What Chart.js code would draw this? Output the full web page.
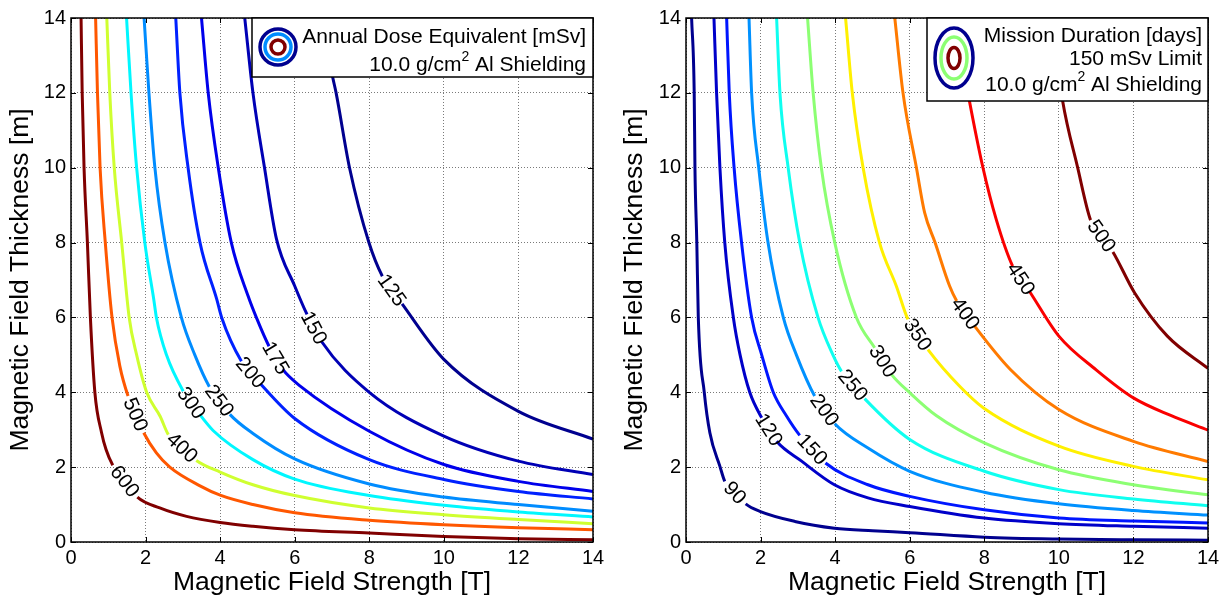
<!DOCTYPE html>
<html lang="en">
<head>
<meta charset="UTF-8">
<title>Magnetic Shielding Contours</title>
<script src="https://cdn.jsdelivr.net/npm/chart.js"></script>
<style>
  body { margin: 0; background: #fff; }
  #wrap { position: relative; width: 1228px; height: 600px; }
  canvas { position: absolute; top: 0; }
</style>
</head>
<body>
<div id="wrap">
  <canvas id="doseChart" width="614" height="600" style="left:0"></canvas>
  <canvas id="missionChart" width="614" height="600" style="left:614px"></canvas>
</div>
<script>
const axisTicks = [0, 2, 4, 6, 8, 10, 12, 14];

// Annual dose equivalent [mSv]; points are [field strength T, thickness m]
const doseLevels = [600, 500, 400, 300, 250, 200, 175, 150, 125];
const dose600 = [[0.27,14],[0.30,12],[0.35,10],[0.44,8],[0.52,6],[0.64,4],[0.82,2.92],[0.94,2.47],[1.12,2.05],[1.78,1.20],[2.38,0.91],[3.10,0.685],[4.0,0.52],[4.88,0.42],[6,0.33],[8,0.24],[10,0.15],[12,0.09],[14,0.06]];
const dose500 = [[0.66,14],[0.71,12],[0.78,10],[0.92,8],[1.10,6],[1.31,4.7],[1.53,3.9],[1.95,2.92],[2.29,2.38],[2.65,2.0],[3.46,1.50],[4.0,1.25],[4.88,1.0],[6,0.78],[8,0.58],[10,0.46],[12,0.38],[14,0.33]];
const dose400 = [[0.96,14],[1.04,12],[1.16,10],[1.36,8],[1.56,6],[1.76,5],[2.03,4],[2.39,3.36],[2.61,2.87],[3.36,2.18],[4.0,1.87],[4.88,1.53],[6,1.24],[8,0.91],[10,0.73],[12,0.60],[14,0.49]];
const dose300 = [[1.49,14],[1.61,12],[1.76,10],[1.98,8],[2.22,6.48],[2.29,6],[2.56,5],[3.01,4.03],[3.45,3.41],[3.81,2.98],[4.88,2.20],[6,1.68],[8,1.24],[10,0.98],[12,0.80],[14,0.67]];
const dose250 = [[1.96,14],[2.09,12],[2.25,10],[2.52,8],[2.96,6],[3.32,5],[3.71,4.15],[4.26,3.41],[4.88,2.90],[6,2.22],[8,1.55],[10,1.20],[12,1.0],[14,0.82]];
const dose200 = [[2.81,14],[2.92,12],[3.14,10],[3.46,8],[3.91,6.48],[4.04,6],[4.57,4.83],[5.08,4.23],[6,3.30],[8,2.2],[10,1.67],[12,1.35],[14,1.15]];
const dose175 = [[3.50,14],[3.68,12],[3.95,10],[4.30,8],[4.75,6.57],[4.97,6],[5.31,5.23],[5.68,4.61],[6.13,4.18],[8,2.96],[10,2.07],[12,1.62],[14,1.35]];
const dose150 = [[4.66,14],[4.88,12],[5.19,10],[5.51,8.1],[6.0,6.84],[6.33,6.08],[6.71,5.37],[8,4.0],[10,2.83],[12,2.16],[14,1.80]];
const dose125 = [[6.72,14],[7.02,12.41],[7.11,12],[7.47,10],[7.99,8],[8.35,7.1],[8.88,6.36],[10,4.88],[12,3.49],[14,2.75]];
// segment left open for each contour's label
const doseLabelAt = [8, 6, 8, 7, 6, 6, 6, 5, 5];

// Mission duration [days] at the 150 mSv limit
const missionLevels = [90, 120, 150, 200, 250, 300, 350, 400, 450, 500];
const days90 = [[0.15,14],[0.22,12],[0.24,10],[0.29,8],[0.33,6],[0.49,4],[0.64,2.92],[0.91,2.02],[1.04,1.62],[1.60,1.02],[1.98,0.82],[2.92,0.55],[3.98,0.37],[5,0.30],[6,0.25],[8,0.13],[10,0.08],[12,0.06],[14,0.05]];
const days120 = [[0.75,14],[0.82,12],[0.91,10],[1.04,8],[1.27,6],[1.45,5],[1.71,4],[2.03,3.32],[2.43,2.69],[3.10,2.16],[3.98,1.53],[4.88,1.18],[6,0.95],[8,0.64],[10,0.49],[12,0.42],[14,0.37]];
const days150 = [[1.09,14],[1.16,12],[1.29,10],[1.49,8],[1.76,6],[2.03,5],[2.34,4],[2.70,3.36],[3.05,2.85],[3.74,2.11],[4.88,1.53],[6,1.22],[8,0.86],[10,0.64],[12,0.56],[14,0.51]];
const days200 = [[1.69,14],[1.76,12],[1.95,10],[2.20,8],[2.61,6],[2.96,5],[3.45,3.90],[3.99,3.16],[4.88,2.51],[6,1.89],[8,1.33],[10,1.02],[12,0.84],[14,0.72]];
const days250 = [[2.43,14],[2.52,12],[2.74,10],[3.05,8],[3.54,6],[3.94,5],[4.17,4.56],[4.79,3.83],[6,2.74],[8,1.89],[10,1.40],[12,1.15],[14,0.97]];
const days300 = [[3.26,14],[3.41,12],[3.63,10],[3.99,8],[4.57,6],[5.06,5.19],[5.51,4.48],[6,3.99],[6.71,3.38],[8,2.65],[10,1.93],[12,1.53],[14,1.26]];
const days350 = [[4.28,14],[4.46,12],[4.75,10],[5.19,8],[5.64,6.84],[5.95,5.95],[6.49,5.14],[7.34,4.16],[7.98,3.58],[10,2.56],[12,2.02],[14,1.66]];
const days400 = [[5.6,14],[5.82,12],[6.18,10],[6.4,8.8],[6.68,8],[7.07,6.84],[7.26,6.44],[7.74,5.77],[8.7,4.61],[10,3.54],[12,2.69],[14,2.15]];
const days450 = [[7.2,14],[7.6,11.79],[7.96,10.02],[8.32,8.62],[8.76,7.37],[9.21,6.70],[10,5.5],[11,4.6],[12,3.85],[13,3.38],[14,2.99]];
const days500 = [[9.8,14],[10.1,11.79],[10.5,10.02],[10.85,8.6],[11.45,7.75],[12.03,6.66],[12.91,5.5],[14,4.64]];
const missionLabelAt = [8, 7, 8, 6, 6, 5, 5, 6, 4, 3];

// jet colours per level
const doseColors = ['rgb(128,0,0)', 'rgb(255,87,0)', 'rgb(207,255,48)', 'rgb(0,247,255)', 'rgb(0,140,255)',
  'rgb(0,33,255)', 'rgb(0,0,235)', 'rgb(0,0,181)', 'rgb(0,0,143)'];
const missionColors = ['rgb(0,0,143)', 'rgb(0,0,201)', 'rgb(0,22,255)', 'rgb(0,145,255)', 'rgb(15,255,240)',
  'rgb(140,255,115)', 'rgb(255,240,0)', 'rgb(255,122,0)', 'rgb(250,0,0)', 'rgb(128,0,0)'];

const FONT = '"Liberation Sans", Arial, sans-serif';
Chart.defaults.font.family = FONT;
Chart.defaults.color = '#000';

function axis(title, isX, fitSize) {
  return {
    type: 'linear', min: 0, max: 14,
    afterBuildTicks: s => { s.ticks = axisTicks.map(v => ({ value: v })); },
    ticks: { font: { size: 20 }, color: '#000', padding: isX ? 4 : 5, maxRotation: 0 },
    grid: { color: '#7a7a7a', lineWidth: 1, drawTicks: false },
    border: { display: false, dash: [1, 2] },
    title: {
      display: true, text: title, color: '#000', font: { size: 26.5 },
      padding: isX ? { top: 0, bottom: 1 } : { top: 5, bottom: 0 }
    },
    afterFit: s => { if (isX) s.height = fitSize; else s.width = fitSize; }
  };
}

function legendLine(ctx, parts, right, y) {
  // parts: [text, superscript, text] drawn right-aligned
  let x = right;
  for (let i = parts.length - 1; i >= 0; i--) {
    const sup = i === 1;
    ctx.font = (sup ? '14px ' : '21px ') + FONT;
    ctx.fillText(parts[i], x, sup ? y - 10 : y);
    x -= ctx.measureText(parts[i]).width;
  }
}

function makeDecor(labelAt, legend) {
  return {
    id: 'decor',
    afterDatasetsDraw(chart) {
      const { ctx, chartArea: a, scales: { x, y } } = chart;
      ctx.save();

      // contour labels sit in the open segment, turned along the line
      ctx.font = '20.5px ' + FONT;
      ctx.fillStyle = '#000';
      ctx.textAlign = 'center';
      ctx.textBaseline = 'middle';
      chart.data.datasets.forEach((ds, i) => {
        const pts = chart.getDatasetMeta(i).data;
        const p0 = pts[labelAt[i]], p1 = pts[labelAt[i] + 1];
        let ang = Math.atan2(p1.y - p0.y, p1.x - p0.x);
        if (ang > Math.PI / 2) ang -= Math.PI;
        if (ang < -Math.PI / 2) ang += Math.PI;
        ctx.save();
        ctx.translate((p0.x + p1.x) / 2, (p0.y + p1.y) / 2);
        ctx.rotate(ang);
        ctx.fillText(ds.label, 0, 1);
        ctx.restore();
      });

      // axes box with inward ticks on all sides
      ctx.strokeStyle = '#000';
      ctx.lineWidth = 1.5;
      ctx.strokeRect(a.left, a.top, a.right - a.left, a.bottom - a.top);
      ctx.lineWidth = 1;
      ctx.beginPath();
      axisTicks.forEach(v => {
        const px = Math.round(x.getPixelForValue(v)) + 0.5;
        const py = Math.round(y.getPixelForValue(v)) + 0.5;
        ctx.moveTo(px, a.bottom); ctx.lineTo(px, a.bottom - 5);
        ctx.moveTo(px, a.top); ctx.lineTo(px, a.top + 5);
        ctx.moveTo(a.left, py); ctx.lineTo(a.left + 5, py);
        ctx.moveTo(a.right, py); ctx.lineTo(a.right - 5, py);
      });
      ctx.stroke();

      // legend box in the upper right corner
      const bx = a.right - legend.w, by = a.top;
      ctx.fillStyle = '#fff';
      ctx.fillRect(bx, by, legend.w, legend.h);
      ctx.strokeStyle = '#000';
      ctx.lineWidth = 1.5;
      ctx.strokeRect(bx, by, legend.w, legend.h);
      ctx.lineWidth = 3.5;
      legend.rings.forEach(r => {
        ctx.strokeStyle = r[2];
        ctx.beginPath();
        ctx.ellipse(bx + legend.cx, by + legend.cy, r[0], r[1], 0, 0, Math.PI * 2);
        ctx.stroke();
      });
      ctx.fillStyle = '#000';
      ctx.textAlign = 'right';
      ctx.textBaseline = 'alphabetic';
      legend.lines.forEach(l => legendLine(ctx, l[0], a.right - legend.inset, by + l[1]));
      ctx.restore();
    }
  };
}

function contourChart(id, curves, levels, colors, labelAt, yWidth, rightPad, legend) {
  const datasets = curves.map((pts, i) => ({
    label: String(levels[i]),
    data: pts.map(p => ({ x: p[0], y: p[1] })),
    showLine: true,
    borderColor: colors[i],
    borderWidth: 3,
    pointRadius: 0,
    cubicInterpolationMode: 'monotone',
    segment: {
      borderColor: c => c.p0DataIndex === labelAt[i] ? 'rgba(0,0,0,0)' : undefined
    }
  }));
  return new Chart(document.getElementById(id), {
    type: 'scatter',
    data: { datasets },
    options: {
      responsive: false,
      animation: false,
      devicePixelRatio: 1,
      layout: { padding: { top: 18, right: rightPad, left: 0, bottom: 0 } },
      plugins: { legend: { display: false }, tooltip: { enabled: false } },
      scales: {
        x: axis('Magnetic Field Strength [T]', true, 58),
        y: axis('Magnetic Field Thickness [m]', false, yWidth)
      }
    },
    plugins: [makeDecor(labelAt, legend)]
  });
}

contourChart('doseChart',
  [dose600, dose500, dose400, dose300, dose250, dose200, dose175, dose150, dose125],
  doseLevels, doseColors, doseLabelAt, 71, 21,
  {
    w: 341, h: 59, inset: 7, cx: 26, cy: 29,
    rings: [[18, 18, 'rgb(0,0,143)'], [13, 13, 'rgb(0,140,255)'], [7, 7, 'rgb(128,0,0)']],
    lines: [[['Annual Dose Equivalent [mSv]'], 25], [['10.0 g/cm', '2', ' Al Shielding'], 53]]
  });

contourChart('missionChart',
  [days90, days120, days150, days200, days250, days300, days350, days400, days450, days500],
  missionLevels, missionColors, missionLabelAt, 72, 20,
  {
    w: 281, h: 83, inset: 6, cx: 27, cy: 40,
    rings: [[19, 30, 'rgb(0,0,143)'], [13, 21, 'rgb(140,255,115)'], [6, 10.5, 'rgb(128,0,0)']],
    lines: [[['Mission Duration [days]'], 24], [['150 mSv Limit'], 47], [['10.0 g/cm', '2', ' Al Shielding'], 73]]
  });
</script>
</body>
</html>
